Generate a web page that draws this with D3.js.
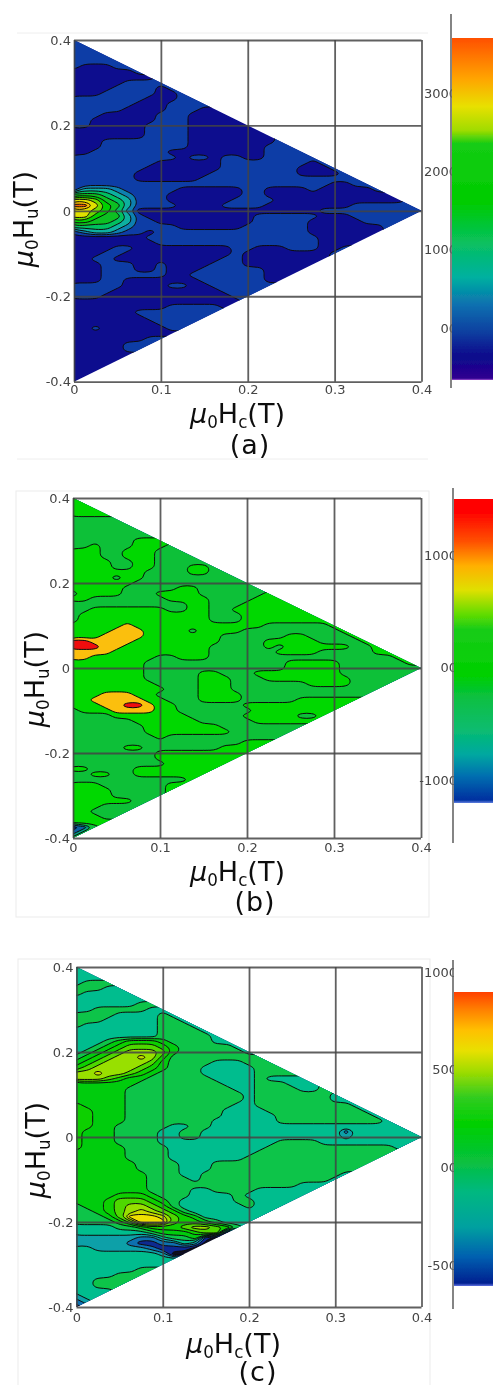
<!DOCTYPE html>
<html><head><meta charset="utf-8">
<style>html,body{margin:0;padding:0;background:#fff;overflow:hidden}svg{display:block}text{font-family:"DejaVu Sans",sans-serif}</style>
<script src="https://cdn.jsdelivr.net/npm/d3@7"></script></head><body>
<svg id="c" width="493" height="1385"></svg>
<script>
// FORC distribution: one hex digit = contour band at each (Hc, Hu) node.
// Rows run Hu = 0.4 to -0.4, columns Hc = 0 upward, both in steps of 0.0125 T.
const gridA = [
"11","111","1111","11111","111111","1000111","00000011","000000001","0000011111",
"00001111011","000111110011","1111111000111","11111100011111","111110000111001",
"111 00000 111 0000 1","11 000000 111 00000 1","11 00000 1111 000000 1",
"0000000 1111 0000000 1","0000000 1111 00000000 1","000 11111111 00000000 11",
"000 11111111 0000000 1111","00 1111111 000000000 11111","1111111111 0 11 0 11 00 111111",
"11111111 000000 11111111 0 11","1111111 0000000 1111111 000 11","111111 0000000 11111111 0000 11",
"111111 000000 1111111111111111","111111111111111111111111 00 111",
"133321 1111 000000 11 0000 1 00000 11","555432 111 0000000 11 000000000000 1",
"887543 111 000000 111 1 000000000000 1","aa8653 1111 0000 1111 00000000 1111111",
"887642 000000000000 00000 11111111111","886553 1 0000000000 111111 000 11111111",
"665543 11 000000000 11111 00000 11111","444432 1111 000000 111111 0000000 11",
"123321 1 0 11111111111111 0000000 1","0000000 1111111111111111 00000 1",
"00000000 111111111111111 0000 1","0000 11 000000000 11 000 111 00 11",
"000 11 0000000000 1 00000000 11","0011 0000000000 11 00000000 1",
"000 111 00 1 0000 111 0000000 1","000 111 00 1 000 111111 0000 1",
"000 111111 00 1111111 000 1","000 11 0000 000 111111 00 1",
"11111 0000 11 00 111111 1","1111 0000000000 1111 1","111 000000000000 111",
"0000000000000000 1","000000000 11111 0 1","000000 111111111","0000000 1111111",
"00000000 11111","001000000 111","00000000000","0000000 111","00000 1111","00000 111",
"0000000","000000","00000","0000","000","00"];
const gridB = [
"44","444","4444","44444","333333","3333333","33333333","333333333","333333 4444",
"33 4 333 44 4 33","444 33 444 3333","444 33 444 33333","4444 33 44 333333",
"4444 33 44 333 44 33","4444444 3333 44 333","4444 3 44 3333333333","444444 333333333333",
"44444 33333 44 3333333","3 4444 333 4444 3 33333 44","44 333333 3 444 4 3333 4444",
"33333333333 44 333 444444","33 4444444 33 44 33 44444444","3 444444444444 333 44444444",
"3 444444444444 333 444444444","44444 5 444444444444 333333 44","4444 555 4444 3 4444 333333333 44",
"444 5555 4444444 333333 44 333 3 44","665555 44444444 3333 44444 3333 44",
"666 55 44444444 33333 4 3 444444 33 44","5555 444444444 333333 4444 333 33 444",
"55 444444 33 444 33333333333333333 44","4444444 3333333333333 44444 333333 44",
"4444444 3333333333333 44444 333333333","4444444 33333 44 333 44444444 33333333",
"4444444 33333 444 333 44444444 333333","44444444 3333 444 3333333 4444 33333",
"444444444 33 3 444 333333333333333","444 555 44 3333 4444 3333333333333",
"44 55555 44 333 4444 33333 4444444","444 55 66 5 44 333333 44444444444",
"3 444 5555 44 3333333 444444444","3333 4444444 33333 44444 33 44",
"333333 444444 33333 4444444","3333333 4444444 333333333","3333333 44444444 3333333",
"33333333 4 333333333333","3333333333333333 4444","33333 44 3333333 44444",
"33333333 444444 4444","33333333 444444444","333333333 4444444","44 3333 444444444",
"33 44 33 44444444","33333333333 44","444 333333 444","4444 33333 44","4444 33333 4",
"444444 33 4","444 3333 4","44 3333 4","444 33 4","44444","0134","134","34"];
const gridC = [
"44","444","4444","45555","555444","5444444","44444444","444444 555","44 55555 444",
"5555 4444 5 44","555 44444 55 44","5 4444444 555 44","44444444 5555 44","44444444 55555 44",
"444 5 6 777 6 5 555 444","44 5 6 7 888 7 6 55555 44","4 5 6 7 8 999 8 6 555555 44",
"567899a975 555555555","6789999865 555 444 5555","7899998765 55 44444 5555",
"99a99 876 5555 44444 55555","99987665 55555 4444 5 44444","666666 5555555 5 444 555 444 5",
"66666 5555555555 44 5555 44 55","66666 55555555555 4 5555555 44","66666 55555555555 4 5555555 444",
"76666 5555555555 44 555555555 44","77 666 555555555 4444 555555555 44","77 666 555555555 44444 555555555 44",
"77 666 55555555 444444 5555555555 44","77 66 55555 44 55 4444444444444444444",
"76 66 5555 44 55 4444444444444 2 4444444","7 666 5555 44 55 4444444444444 3 44444444",
"7 666 5555 44444444444 5555 4444444444","7 6666 555 5 444444444 555555555555 44",
"66666 5555 44444444 55555555555555","66666 5555 4444444 55555555555555",
"666666 5555 444 5555555555555555","666666 5555 444 555555555555555","6666666 555 44 5555555555555 44",
"6666666 555 5 4 555555555555 44","6666666 5555555555 5555 4444","6666666 5555 44 5555 4444444",
"6666 777 6 555 4444 5 4444444","666 7 888 7 6 5 44444 55 44444","5 66 7 8 99 8 7 5 444444 5 4444",
"55 6 7 8 9 a 9 8 7 5 444444444","555 6 8 b bb a 8 7 6 4444444","5555 6 8 b b b 8 77 6 5 4444",
"4444 55 6 777 8 99 8 7 5 4","4444444 5 666 7 88 1 1","333333 22 4 55 6 1 00","33333 2 11 22 4 3 00",
"44 33333 2 111 00","44444444 3 000","44444444444","4444444444","444444 555","4444 5555",
"44 55555","44 5555","44445","3444","234","12"];

const bandsA = ["#0a0a8e","#0a3ea6","#0a80b0","#08b0a0","#06c060","#0cc020","#00d000","#70d800","#e0e000","#ffc000","#f46010"];
const bandsB = ["#001a60","#0a60a0","#05a080","#08c038","#02d802","#fbbf10","#f01010"];
const bandsC = ["#0a0a20","#0a2a90","#0a70b0","#08a0a8","#06bd8e","#08c448","#02cc10","#10d000","#50d800","#98e000","#c8dc00","#f0e000"];

const stopsA = [[0,"#ff5000"],[.12,"#ffa500"],[.2,"#e8e000"],[.27,"#a0dc00"],[.31,"#14cc14"],[.48,"#00cc00"],[.6,"#08c060"],[.7,"#00b0a0"],[.78,"#0a70b0"],[.86,"#0a3fa0"],[.93,"#0a0a8c"],[.995,"#300090"],[1,"#a050d0"]];
const stopsB = [[0,"#ff0000"],[.04,"#ff0000"],[.14,"#ff5000"],[.22,"#ffb000"],[.3,"#dfe000"],[.38,"#60dc00"],[.43,"#18cc18"],[.58,"#00d000"],[.65,"#08c040"],[.76,"#08bc70"],[.84,"#00a8a0"],[.91,"#0070b0"],[.99,"#0030a0"],[1,"#6080e0"]];
const stopsC = [[0,"#ff4000"],[.06,"#ff8000"],[.13,"#ffc000"],[.2,"#e8e000"],[.27,"#a0dc00"],[.36,"#30cc20"],[.45,"#00d000"],[.58,"#08c040"],[.68,"#00b880"],[.8,"#00a0a0"],[.9,"#0060b0"],[.99,"#002090"],[1,"#6070e0"]];

const hcTicks = [0,0.1,0.2,0.3,0.4];
const huTicks = [-0.4,-0.2,0,0.2,0.4];
const cbA = {vals:[3000,2000,1000,0], labels:["3000","2000","1000","00"], v0:3000, v1:0};
const cbB = {vals:[1000,0,-1000], labels:["1000","00","-1000"], v0:1000, v1:-1000};
const cbC = {vals:[1000,500,0,-500], labels:["1000","500","00","-500"], v0:1000, v1:-500};

const STEP = 0.0125, NX = 34, NY = 65;
const svg = d3.select("#c");
const defs = svg.append("defs");
defs.append("filter").attr("id","soft").attr("x","0").attr("y","0").attr("width","1").attr("height","1")
  .append("feGaussianBlur").attr("stdDeviation",0.7);
const root = svg.append("g").attr("filter","url(#soft)");
root.append("rect").attr("width",493).attr("height",1385).attr("fill","#fff");

function title(g, letter, size){
  g.attr("font-size",size).attr("fill","#111");
  g.append("tspan").attr("font-style","italic").text("\u03BC");
  g.append("tspan").attr("font-size",size*0.62).attr("dy",size*0.2).text("0");
  g.append("tspan").attr("dy",-size*0.2).text("H");
  g.append("tspan").attr("font-size",size*0.62).attr("dy",size*0.2).text(letter);
  g.append("tspan").attr("dy",-size*0.2).text("(T)");
}

const ringLine = d3.line().curve(d3.curveBasisClosed);

function panel(o){
  const x = d3.scaleLinear().domain([0,0.4]).range(o.xr);
  const y = d3.scaleLinear().domain([-0.4,0.4]).range(o.yr);
  const g = root.append("g");
  const id = "tri"+o.name;
  defs.append("clipPath").attr("id",id).append("polygon")
    .attr("points",[[0,.4],[.4,0],[0,-.4]].map(d=>x(d[0])+","+y(d[1])).join(" "));

  const values = [];
  o.grid.forEach(s=>{
    const r = s.replace(/ /g,"");
    for(let i=0;i<NX;i++) values.push(parseInt(r[Math.min(i,r.length-1)],16));
  });
  const toPx = p => [x((p[0]-0.5)*STEP), y(0.4-(p[1]-0.5)*STEP)];
  const ringsPath = d => d.coordinates.flatMap(poly=>poly.map(ring=>ringLine(ring.slice(0,-1).map(toPx)))).join("");
  const lo = d3.min(values), hi = d3.max(values);
  const thr = d3.range(lo,hi).map(v=>v+0.5);
  const cont = d3.contours().size([NX,NY]).smooth(true).thresholds(thr)(values);
  const cg = g.append("g").attr("clip-path","url(#"+id+")");
  cg.append("rect").attr("x",o.xr[0]).attr("y",o.yr[1]).attr("width",o.xr[1]-o.xr[0]).attr("height",o.yr[0]-o.yr[1]).attr("fill",o.bands[lo]);
  cg.selectAll("path").data(cont).join("path")
    .attr("d",ringsPath).attr("fill-rule","evenodd")
    .attr("fill",d=>o.bands[Math.ceil(d.value)])
    .attr("stroke","#0a0a0a").attr("stroke-width",1).attr("stroke-linejoin","round");

  // grid and ticks
  const gx = g.append("g").attr("transform","translate(0,"+o.yr[0]+")")
    .call(d3.axisBottom(x).tickValues(hcTicks).tickSize(o.yr[1]-o.yr[0]).tickPadding(0).tickFormat(d=>d===0?"0":String(d)));
  const gy = g.append("g").attr("transform","translate("+o.xr[0]+",0)")
    .call(d3.axisLeft(y).tickValues(huTicks).tickSize(o.xr[0]-o.xr[1]).tickPadding(0).tickFormat(d=>d===0?"0":String(d)));
  [gx,gy].forEach(a=>{
    a.select(".domain").remove();
    a.selectAll("line").attr("stroke","#444").attr("stroke-width",1.8).attr("stroke-opacity",0.85);
    a.selectAll("text").attr("font-size",13).attr("font-family","DejaVu Sans").attr("fill","#444");
  });
  gx.selectAll("text").attr("dy",null).attr("dominant-baseline","central").attr("y",o.xtickY-o.yr[0]);
  gy.selectAll("text").attr("x",-3).attr("text-anchor","end");

  // axis titles and tag
  title(g.append("text").attr("x",o.xTitle[0]).attr("y",o.xTitle[1]),"c",27);
  title(g.append("text").attr("transform","translate("+o.yTitle[0]+","+o.yTitle[1]+") rotate(-90)").attr("text-anchor","middle"),"u",27);
  g.append("text").attr("x",o.tag[0]).attr("y",o.tag[1]).attr("text-anchor","middle").attr("font-size",27).attr("letter-spacing",1).attr("fill","#111").text(o.tagText);

  // colour bar; its labels are cut off at the bar's axis, as in the source figure
  const cb = o.cb;
  const vy = d3.scaleLinear().domain([cb.v0,cb.v1]).range(o.cbY);
  const cid = "lab"+o.name;
  defs.append("clipPath").attr("id",cid).append("rect").attr("x",400).attr("y",o.axisY[0]-20).attr("width",o.cbx-400).attr("height",o.axisY[1]-o.axisY[0]+40);
  const ag = g.append("g").attr("clip-path","url(#"+cid+")").append("g").attr("transform","translate(457,0)")
    .call(d3.axisLeft(vy).tickValues(cb.vals).tickSize(0).tickPadding(0).tickFormat((d,i)=>cb.labels[i]));
  ag.select(".domain").remove();
  ag.selectAll("text").attr("font-size",13).attr("font-family","DejaVu Sans").attr("fill","#444");
  const gid = "grad"+o.name;
  defs.append("linearGradient").attr("id",gid).attr("x1",0).attr("x2",0).attr("y1",0).attr("y2",1)
    .selectAll("stop").data(o.stops).join("stop").attr("offset",d=>d[0]).attr("stop-color",d=>d[1]);
  g.append("rect").attr("x",o.cbx).attr("y",o.bar[0]).attr("width",493-o.cbx).attr("height",o.bar[1]-o.bar[0]).attr("fill","url(#"+gid+")");
  g.append("line").attr("x1",o.cbx-1).attr("x2",o.cbx-1).attr("y1",o.axisY[0]).attr("y2",o.axisY[1]).attr("stroke","#666").attr("stroke-width",1.6);
}

// faint page frames of the source figure
root.append("path").attr("d","M17,33H428M17,459H428").attr("stroke","#eeeeee").attr("fill","none");
root.append("rect").attr("x",16).attr("y",491).attr("width",413).attr("height",426).attr("fill","none").attr("stroke","#ebebeb");
root.append("rect").attr("x",18).attr("y",959).attr("width",412).attr("height",440).attr("fill","none").attr("stroke","#ebebeb");

panel({name:"a",grid:gridA,bands:bandsA,stops:stopsA,cb:cbA,xr:[74,421.5],yr:[381.7,40],xtickY:390,
  xTitle:[190,423],yTitle:[33,219],tag:[250,454],tagText:"(a)",cbY:[93,328],cbx:452,bar:[38,380],axisY:[14,388]});
panel({name:"b",grid:gridB,bands:bandsB,stops:stopsB,cb:cbB,xr:[73,421],yr:[838,498],xtickY:847,
  xTitle:[190,881],yTitle:[44,679],tag:[255,911],tagText:"(b)",cbY:[555,780],cbx:454,bar:[499,803],axisY:[488,843]});
panel({name:"c",grid:gridC,bands:bandsC,stops:stopsC,cb:cbC,xr:[76.5,421.5],yr:[1307,967],xtickY:1317,
  xTitle:[186,1353],yTitle:[45,1150],tag:[258,1381],tagText:"(c)",cbY:[972,1265],cbx:454,bar:[992,1286],axisY:[960,1309]});
</script></body></html>
